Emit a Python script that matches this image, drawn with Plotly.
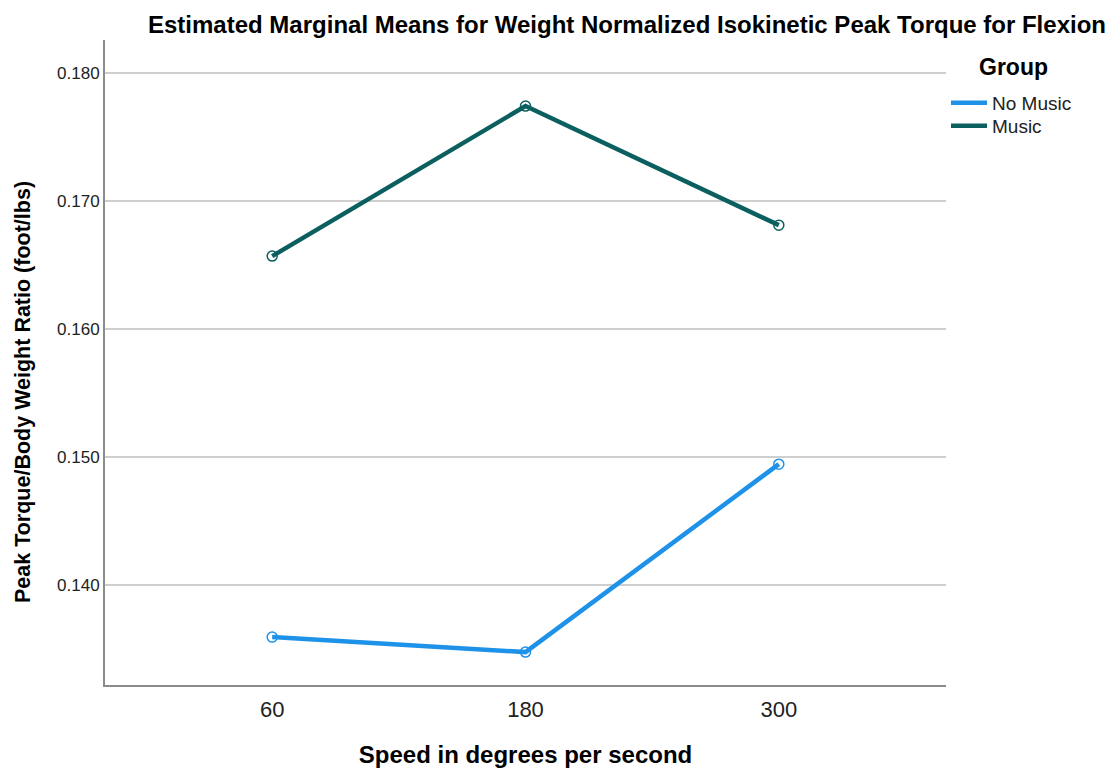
import plotly.graph_objects as go

speeds = ["60", "180", "300"]
no_music = [0.13594, 0.13477, 0.14945]
music = [0.16570, 0.17742, 0.16812]
y_ticks = [0.140, 0.150, 0.160, 0.170, 0.180]
y_tick_labels = ["0.140", "0.150", "0.160", "0.170", "0.180"]
groups = ["No Music", "Music"]
colors = ["#1e92e8", "#0b5f5f"]

FONT = "Liberation Sans, Arial, sans-serif"
W, H = 1113, 770
PL, PR, PT, PB = 105, 946, 40, 685


def px_x(px):
    return (px - PL) / (PR - PL)


def px_y(py):
    return (PB - py) / (PB - PT)


fig = go.Figure()
for name, vals, col in zip(groups, [no_music, music], colors):
    fig.add_trace(go.Scatter(
        x=speeds, y=vals, name=name, mode="lines+markers", showlegend=False,
        line=dict(color=col, width=4.5),
        marker=dict(symbol="circle-open", size=10, color=col, line=dict(width=1.5)),
    ))
legend_ids = ["legend", "legend2"]
for name, col, lid in zip(groups, colors, legend_ids):
    fig.add_trace(go.Scatter(
        x=[None], y=[None], name=name, mode="lines", legend=lid,
        line=dict(color=col, width=4.5),
    ))

legend_common = dict(
    x=1.0, xanchor="left", xref="paper", yref="paper", yanchor="middle",
    font=dict(size=19, color="#222"), bgcolor="rgba(0,0,0,0)", itemwidth=36,
)

fig.update_layout(
    width=W, height=H,
    margin=dict(l=PL, r=W - PR, t=PT, b=H - PB, autoexpand=False),
    paper_bgcolor="white", plot_bgcolor="white",
    font=dict(family=FONT, color="#222"),
    title=dict(
        text="<b>Estimated Marginal Means for Weight Normalized Isokinetic Peak Torque for Flexion</b>",
        x=627 / W, xanchor="center", xref="container", y=1 - 25 / H, yanchor="middle", yref="container",
        font=dict(size=24, color="#000", family=FONT),
    ),
    legend=dict(y=px_y(103), **legend_common),
    legend2=dict(y=px_y(126), **legend_common),
    showlegend=True,
    annotations=[
        dict(text="<b>Group</b>", x=px_x(1013), y=px_y(67), xref="paper", yref="paper",
             showarrow=False, xanchor="center", yanchor="middle",
             font=dict(size=23, color="#000")),
        dict(text="<b>Peak Torque/Body Weight Ratio (foot/lbs)</b>", textangle=-90,
             x=px_x(23), y=px_y(392), xref="paper", yref="paper",
             showarrow=False, xanchor="center", yanchor="middle",
             font=dict(size=21.5, color="#000")),
    ],
)

fig.update_xaxes(
    type="category", range=[-0.66, 2.66],
    showgrid=False, zeroline=False,
    showline=True, linecolor="#8c8c8c", linewidth=2,
    ticks="", tickfont=dict(size=22, color="#222"), ticklabelstandoff=4,
    title=dict(text="<b>Speed in degrees per second</b>", font=dict(size=24, color="#000"), standoff=25),
)
fig.update_yaxes(
    range=[0.1322, 0.18258],
    tickvals=y_ticks, ticktext=y_tick_labels,
    showgrid=True, gridcolor="#cfcfcf", gridwidth=2,
    zeroline=False,
    showline=True, linecolor="#8c8c8c", linewidth=2,
    ticks="", tickfont=dict(size=17, color="#222"),
)

fig.write_html("out.html")
